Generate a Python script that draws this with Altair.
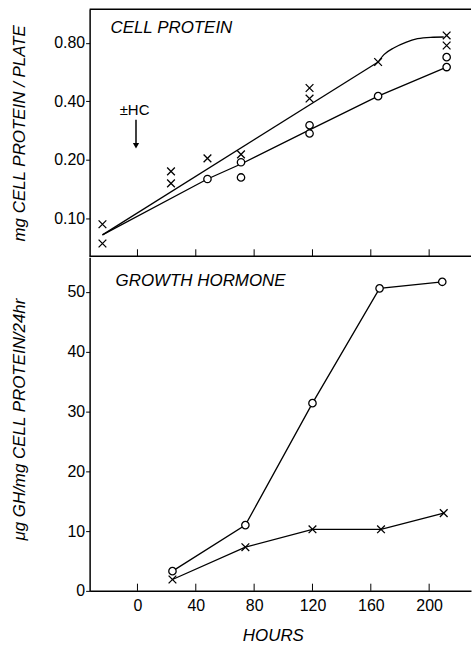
import altair as alt
import pandas as pd

# ---------------- data ----------------
# CELL PROTEIN panel (mg cell protein / plate, log scale)
top_x_hours = [-24, -24, 23, 23, 48, 71, 118, 118, 165, 212, 212]
top_x_protein = [0.093, 0.074, 0.174, 0.151, 0.203, 0.213, 0.468, 0.413, 0.637, 0.873, 0.775]
top_o_hours = [48, 71, 71, 118, 118, 165, 212, 212]
top_o_protein = [0.159, 0.194, 0.162, 0.301, 0.273, 0.425, 0.675, 0.600]
# hand-drawn fit lines
fit_x_line_hours = [-24, 165]
fit_x_line_protein = [0.082, 0.637]
fit_x_curve_hours = [165, 169, 176, 184, 192, 201, 210]
fit_x_curve_protein = [0.637, 0.695, 0.755, 0.805, 0.84, 0.854, 0.857]
fit_o_hours = [-24, 48, 71, 118, 165, 212]
fit_o_protein = [0.082, 0.159, 0.19, 0.285, 0.425, 0.60]

# GROWTH HORMONE panel (ug GH / mg cell protein / 24 hr)
gh_o_hours = [24, 74, 120, 166, 209]
gh_o_values = [3.3, 11.0, 31.4, 50.6, 51.7]
gh_x_hours = [24, 74, 120, 167, 210]
gh_x_values = [1.9, 7.3, 10.3, 10.3, 13.0]

x_tick_values = [0, 40, 80, 120, 160, 200]
top_y_ticks = [0.10, 0.20, 0.40, 0.80]
bottom_y_ticks = [0, 10, 20, 30, 40, 50]

# annotation anchors (data coordinates)
hc_label = {"hour": -2, "value": 0.34, "text": "±HC"}
hc_arrow = {"hour": -1, "from": 0.321, "to": 0.24, "head": 0.236}
top_title = {"hour": -18.5, "value": 0.895, "text": "CELL PROTEIN"}
bottom_title = {"hour": -15, "value": 51.0, "text": "GROWTH HORMONE"}

X_DOMAIN = [-32.8, 228.7]
TOP_Y_DOMAIN = [0.0636, 1.19]
BOT_Y_DOMAIN = [0, 55.8]
W = 383
H_TOP = 248
H_BOT = 335
FONT = "Liberation Sans"
XSHAPE = "M -1 -1 L 1 1 M 1 -1 L -1 1"

xs = alt.Scale(domain=X_DOMAIN, nice=False, zero=False)
ys_top = alt.Scale(type="log", domain=TOP_Y_DOMAIN, nice=False)
ys_bot = alt.Scale(domain=BOT_Y_DOMAIN, nice=False, zero=False)

# ---------------- top panel ----------------
fit_df = pd.concat([
    pd.DataFrame({"hour": fit_x_line_hours, "value": fit_x_line_protein, "series": "x_line",
                  "i": range(len(fit_x_line_hours))}),
    pd.DataFrame({"hour": fit_o_hours, "value": fit_o_protein, "series": "o",
                  "i": range(len(fit_o_hours))}),
])
curve_df = pd.DataFrame({"hour": fit_x_curve_hours, "value": fit_x_curve_protein,
                         "i": range(len(fit_x_curve_hours))})
topx_df = pd.DataFrame({"hour": top_x_hours, "value": top_x_protein})
topo_df = pd.DataFrame({"hour": top_o_hours, "value": top_o_protein})

y_top_axis = alt.Axis(values=top_y_ticks, format=".2f", title="mg CELL PROTEIN / PLATE",
                      titleX=-70, titleY=H_TOP / 2, titleAngle=270, titleBaseline="middle",
                      titleAlign="center", grid=False)
x_none = alt.X("hour:Q", scale=xs, axis=None)

top_lines = alt.Chart(fit_df).mark_line(color="black", strokeWidth=1.3).encode(
    x=alt.X("hour:Q", scale=xs, axis=None),
    y=alt.Y("value:Q", scale=ys_top, axis=y_top_axis),
    detail="series:N", order="i:Q")
top_curve = alt.Chart(curve_df).mark_line(color="black", strokeWidth=1.3,
                                          interpolate="monotone").encode(
    x=x_none, y=alt.Y("value:Q", scale=ys_top), order="i:Q")
top_o = alt.Chart(topo_df).mark_point(shape="circle", filled=True, fill="white", stroke="black",
                                      strokeWidth=1.3, size=55, opacity=1).encode(
    x=x_none, y=alt.Y("value:Q", scale=ys_top))
top_x = alt.Chart(topx_df).mark_point(shape=XSHAPE, filled=False, stroke="black",
                                      strokeWidth=1.3, size=60, opacity=1).encode(
    x=x_none, y=alt.Y("value:Q", scale=ys_top))
top_ticks = alt.Chart(pd.DataFrame({"hour": x_tick_values, "y0": TOP_Y_DOMAIN[0], "y1": 0.0691})
                      ).mark_rule(color="black", strokeWidth=1).encode(
    x=x_none, y=alt.Y("y0:Q", scale=ys_top), y2="y1:Q")
border_df = pd.DataFrame({"x0": [X_DOMAIN[0]] * 2, "x1": [X_DOMAIN[1]] * 2,
                          "y": TOP_Y_DOMAIN[::-1]})
top_border = alt.Chart(border_df).mark_rule(color="black", strokeWidth=1.5).encode(
    x=alt.X("x0:Q", scale=xs, axis=None), x2="x1:Q", y=alt.Y("y:Q", scale=ys_top))
hc_text = alt.Chart(pd.DataFrame([hc_label])).mark_text(
    font=FONT, fontSize=15, align="center", baseline="alphabetic", color="black").encode(
    x=x_none, y=alt.Y("value:Q", scale=ys_top), text="text:N")
arrow_df = pd.DataFrame([hc_arrow])
hc_rule = alt.Chart(arrow_df).mark_rule(color="black", strokeWidth=1.5).encode(
    x=x_none, y=alt.Y("from:Q", scale=ys_top), y2="to:Q")
hc_head = alt.Chart(arrow_df).mark_point(shape="triangle-down", filled=True, color="black",
                                         size=40, opacity=1).encode(
    x=x_none, y=alt.Y("head:Q", scale=ys_top))
top_label = alt.Chart(pd.DataFrame([top_title])).mark_text(
    font=FONT, fontSize=17, fontStyle="italic", align="left", baseline="alphabetic",
    color="black").encode(x=x_none, y=alt.Y("value:Q", scale=ys_top), text="text:N")

top = alt.layer(top_lines, top_curve, top_ticks, top_border, top_o, top_x, hc_text, hc_rule,
                hc_head, top_label).properties(width=W, height=H_TOP)

# ---------------- bottom panel ----------------
gh_df = pd.concat([
    pd.DataFrame({"hour": gh_o_hours, "value": gh_o_values, "series": "o"}),
    pd.DataFrame({"hour": gh_x_hours, "value": gh_x_values, "series": "x"}),
])
gho_df = pd.DataFrame({"hour": gh_o_hours, "value": gh_o_values})
ghx_df = pd.DataFrame({"hour": gh_x_hours, "value": gh_x_values})

x_bot_axis = alt.Axis(values=x_tick_values, format="d", title="HOURS", ticks=False,
                      labelPadding=7, titleX=184, titleY=50, titleBaseline="alphabetic",
                      titleAlign="center", grid=False)
y_bot_axis = alt.Axis(values=bottom_y_ticks, format="d", title="μg GH/mg CELL PROTEIN/24hr",
                      titleX=-70, titleY=H_BOT / 2 - 5, titleAngle=270, titleBaseline="middle",
                      titleAlign="center", grid=False)
x_plain = alt.X("hour:Q", scale=xs)

bot_lines = alt.Chart(gh_df).mark_line(color="black", strokeWidth=1.3).encode(
    x=alt.X("hour:Q", scale=xs, axis=x_bot_axis),
    y=alt.Y("value:Q", scale=ys_bot, axis=y_bot_axis),
    detail="series:N")
bot_o = alt.Chart(gho_df).mark_point(shape="circle", filled=True, fill="white", stroke="black",
                                     strokeWidth=1.3, size=55, opacity=1).encode(
    x=x_plain, y=alt.Y("value:Q", scale=ys_bot))
bot_x = alt.Chart(ghx_df).mark_point(shape=XSHAPE, filled=False, stroke="black",
                                     strokeWidth=1.3, size=60, opacity=1).encode(
    x=x_plain, y=alt.Y("value:Q", scale=ys_bot))
bot_ticks = alt.Chart(pd.DataFrame({"hour": x_tick_values, "y0": 0.0, "y1": 1.2})
                      ).mark_rule(color="black", strokeWidth=1).encode(
    x=x_plain, y=alt.Y("y0:Q", scale=ys_bot), y2="y1:Q")
bot_label = alt.Chart(pd.DataFrame([bottom_title])).mark_text(
    font=FONT, fontSize=17, fontStyle="italic", align="left", baseline="alphabetic",
    color="black").encode(x=x_plain, y=alt.Y("value:Q", scale=ys_bot), text="text:N")

bottom = alt.layer(bot_lines, bot_ticks, bot_o, bot_x, bot_label).properties(width=W, height=H_BOT)

chart = alt.vconcat(top, bottom, spacing=0).properties(
    padding={"left": 10, "top": 7, "right": 0, "bottom": 0},
    background="white",
).configure_view(
    strokeWidth=0
).configure_axis(
    labelFont=FONT, labelFontSize=16, labelColor="black",
    titleFont=FONT, titleFontSize=17, titleFontStyle="italic", titleFontWeight="normal",
    titleColor="black", domainColor="black", domainWidth=1.5,
    tickColor="black", tickSize=4, labelPadding=1,
)

chart.save("out.html", embed_options={"renderer": "svg", "actions": False})
